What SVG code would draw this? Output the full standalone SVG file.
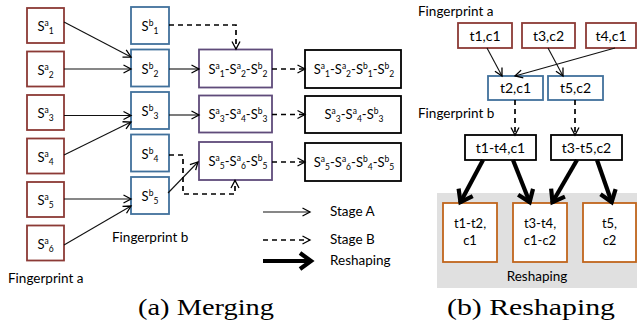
<svg xmlns="http://www.w3.org/2000/svg" width="637" height="327" viewBox="0 0 637 327">
  <style>
    .lbl { font-family: Lato, "Liberation Sans", sans-serif; font-size: 13.5px; fill: #000; }
    .box { font-family: Lato, "Liberation Sans", sans-serif; font-size: 13px; fill: #000; text-anchor: middle; }
    .sm { font-size: 8.5px; }
    .cap { font-family: "Liberation Serif", "DejaVu Serif", serif; font-size: 23px; fill: #000; }
    .fa rect { fill: #fff; stroke: #8c3a36; stroke-width: 1.8; }
    .fb rect { fill: #fff; stroke: #41719c; stroke-width: 1.8; }
    .mg rect { fill: #fff; stroke: #5f4b7a; stroke-width: 1.8; }
    .rs rect { fill: #fff; stroke: #000; stroke-width: 1.8; }
    .or rect { fill: #fff; stroke: #c0651c; stroke-width: 1.8; }
    .a { fill: none; stroke: #111; stroke-width: 1.1; marker-end: url(#open); }
    .b { fill: none; stroke: #000; stroke-width: 1.7; stroke-dasharray: 5 4; marker-end: url(#open); }
    .r { fill: none; stroke: #000; stroke-width: 4.2; marker-end: url(#thick); }
  </style>
  <defs>
    <marker id="open" markerUnits="userSpaceOnUse" markerWidth="12" markerHeight="12" viewBox="0 0 12 10" refX="9.5" refY="5" orient="auto">
      <path d="M2,1 L9.5,5 L2,9" fill="none" stroke="#000" stroke-width="1.3"/>
    </marker>
    <marker id="thick" markerUnits="userSpaceOnUse" markerWidth="22" markerHeight="22" viewBox="0 0 22 22" refX="17" refY="11" orient="auto">
      <path d="M5,3 L16,11 L5,19" fill="none" stroke="#000" stroke-width="4.2"/>
    </marker>
  </defs>

  <rect x="437" y="193" width="200" height="95" fill="#e0e0e0"/>

  <!-- merging: fingerprint a -->
  <g id="sa1" class="fa"><rect x="27" y="8" width="37" height="35"/><text class="box" x="45.5" y="31">S<tspan class="sm" dy="-5">a</tspan><tspan class="sm" dy="8">1</tspan></text></g>
  <g id="sa2" class="fa"><rect x="27" y="51.5" width="37" height="35"/><text class="box" x="45.5" y="74.5">S<tspan class="sm" dy="-5">a</tspan><tspan class="sm" dy="8">2</tspan></text></g>
  <g id="sa3" class="fa"><rect x="27" y="95" width="37" height="35"/><text class="box" x="45.5" y="118">S<tspan class="sm" dy="-5">a</tspan><tspan class="sm" dy="8">3</tspan></text></g>
  <g id="sa4" class="fa"><rect x="27" y="138.5" width="37" height="35"/><text class="box" x="45.5" y="161.5">S<tspan class="sm" dy="-5">a</tspan><tspan class="sm" dy="8">4</tspan></text></g>
  <g id="sa5" class="fa"><rect x="27" y="182" width="37" height="35"/><text class="box" x="45.5" y="205">S<tspan class="sm" dy="-5">a</tspan><tspan class="sm" dy="8">5</tspan></text></g>
  <g id="sa6" class="fa"><rect x="27" y="225.5" width="37" height="35"/><text class="box" x="45.5" y="248.5">S<tspan class="sm" dy="-5">a</tspan><tspan class="sm" dy="8">6</tspan></text></g>

  <!-- merging: fingerprint b -->
  <g id="sb1" class="fb"><rect x="131" y="7" width="38" height="37"/><text class="box" x="150" y="31">S<tspan class="sm" dy="-5">b</tspan><tspan class="sm" dy="8">1</tspan></text></g>
  <g id="sb2" class="fb"><rect x="131" y="49.5" width="38" height="37"/><text class="box" x="150" y="73.5">S<tspan class="sm" dy="-5">b</tspan><tspan class="sm" dy="8">2</tspan></text></g>
  <g id="sb3" class="fb"><rect x="131" y="92" width="38" height="37"/><text class="box" x="150" y="116">S<tspan class="sm" dy="-5">b</tspan><tspan class="sm" dy="8">3</tspan></text></g>
  <g id="sb4" class="fb"><rect x="131" y="134.5" width="38" height="37"/><text class="box" x="150" y="158.5">S<tspan class="sm" dy="-5">b</tspan><tspan class="sm" dy="8">4</tspan></text></g>
  <g id="sb5" class="fb"><rect x="131" y="177" width="38" height="37"/><text class="box" x="150" y="201">S<tspan class="sm" dy="-5">b</tspan><tspan class="sm" dy="8">5</tspan></text></g>

  <!-- merging: stage A results -->
  <g id="m1" class="mg"><rect x="199" y="49.5" width="73" height="38"/><text class="box" x="238" y="74">S<tspan class="sm" dy="-5">a</tspan><tspan class="sm" dy="8">1</tspan><tspan dy="-3">-S</tspan><tspan class="sm" dy="-5">a</tspan><tspan class="sm" dy="8">2</tspan><tspan dy="-3">-S</tspan><tspan class="sm" dy="-5">b</tspan><tspan class="sm" dy="8">2</tspan></text></g>
  <g id="m2" class="mg"><rect x="199" y="95.5" width="73" height="37"/><text class="box" x="238" y="119">S<tspan class="sm" dy="-5">a</tspan><tspan class="sm" dy="8">3</tspan><tspan dy="-3">-S</tspan><tspan class="sm" dy="-5">a</tspan><tspan class="sm" dy="8">4</tspan><tspan dy="-3">-S</tspan><tspan class="sm" dy="-5">b</tspan><tspan class="sm" dy="8">3</tspan></text></g>
  <g id="m3" class="mg"><rect x="199" y="142" width="73" height="38"/><text class="box" x="238" y="166">S<tspan class="sm" dy="-5">a</tspan><tspan class="sm" dy="8">5</tspan><tspan dy="-3">-S</tspan><tspan class="sm" dy="-5">a</tspan><tspan class="sm" dy="8">6</tspan><tspan dy="-3">-S</tspan><tspan class="sm" dy="-5">b</tspan><tspan class="sm" dy="8">5</tspan></text></g>

  <!-- merging: stage B results -->
  <g id="r1" class="rs"><rect x="305" y="50" width="96" height="38"/><text class="box" x="354" y="74">S<tspan class="sm" dy="-5">a</tspan><tspan class="sm" dy="8">1</tspan><tspan dy="-3">-S</tspan><tspan class="sm" dy="-5">a</tspan><tspan class="sm" dy="8">2</tspan><tspan dy="-3">-S</tspan><tspan class="sm" dy="-5">b</tspan><tspan class="sm" dy="8">1</tspan><tspan dy="-3">-S</tspan><tspan class="sm" dy="-5">b</tspan><tspan class="sm" dy="8">2</tspan></text></g>
  <g id="r2" class="rs"><rect x="305" y="96" width="96" height="37"/><text class="box" x="354" y="119">S<tspan class="sm" dy="-5">a</tspan><tspan class="sm" dy="8">3</tspan><tspan dy="-3">-S</tspan><tspan class="sm" dy="-5">a</tspan><tspan class="sm" dy="8">4</tspan><tspan dy="-3">-S</tspan><tspan class="sm" dy="-5">b</tspan><tspan class="sm" dy="8">3</tspan></text></g>
  <g id="r3" class="rs"><rect x="305" y="143" width="96" height="38"/><text class="box" x="354" y="167">S<tspan class="sm" dy="-5">a</tspan><tspan class="sm" dy="8">5</tspan><tspan dy="-3">-S</tspan><tspan class="sm" dy="-5">a</tspan><tspan class="sm" dy="8">6</tspan><tspan dy="-3">-S</tspan><tspan class="sm" dy="-5">b</tspan><tspan class="sm" dy="8">4</tspan><tspan dy="-3">-S</tspan><tspan class="sm" dy="-5">b</tspan><tspan class="sm" dy="8">5</tspan></text></g>

  <!-- reshaping: fingerprint a -->
  <g id="t1c1" class="fa"><rect x="458" y="23" width="54" height="25"/><text class="box" x="485" y="40.5" style="font-size:14px">t1,c1</text></g>
  <g id="t3c2" class="fa"><rect x="522" y="23" width="53" height="25"/><text class="box" x="548.5" y="40.5" style="font-size:14px">t3,c2</text></g>
  <g id="t4c1" class="fa"><rect x="586" y="23" width="50" height="25"/><text class="box" x="611" y="40.5" style="font-size:14px">t4,c1</text></g>

  <!-- reshaping: fingerprint b -->
  <g id="t2c1" class="fb"><rect x="488" y="76" width="55" height="24"/><text class="box" x="515.5" y="93" style="font-size:14px">t2,c1</text></g>
  <g id="t5c2" class="fb"><rect x="548" y="76" width="55" height="24"/><text class="box" x="575.5" y="93" style="font-size:14px">t5,c2</text></g>

  <!-- reshaping: merged -->
  <g id="t1t4" class="rs"><rect x="465" y="135" width="71" height="25"/><text class="box" x="500.5" y="152.5" style="font-size:14px">t1-t4,c1</text></g>
  <g id="t3t5" class="rs"><rect x="551" y="135" width="71" height="25"/><text class="box" x="586.5" y="152.5" style="font-size:14px">t3-t5,c2</text></g>

  <!-- reshaping: output -->
  <g id="o1" class="or"><rect x="443" y="203" width="54" height="59"/><text class="box" x="470" y="228">t1-t2,</text><text class="box" x="470" y="245">c1</text></g>
  <g id="o2" class="or"><rect x="513" y="203" width="54" height="59"/><text class="box" x="540" y="228">t3-t4,</text><text class="box" x="540" y="245">c1-c2</text></g>
  <g id="o3" class="or"><rect x="583" y="203" width="53" height="59"/><text class="box" x="609.5" y="228">t5,</text><text class="box" x="609.5" y="245">c2</text></g>

  <g id="connectors">
    <line class="a" x1="64" y1="22" x2="131" y2="57"/>
    <line class="a" x1="64" y1="69" x2="131" y2="69"/>
    <line class="a" x1="64" y1="115.5" x2="131" y2="115.5"/>
    <line class="a" x1="64" y1="155" x2="131" y2="122"/>
    <line class="a" x1="64" y1="199" x2="131" y2="199"/>
    <line class="a" x1="64" y1="245" x2="131" y2="206"/>
    <line class="a" x1="169" y1="69" x2="199" y2="69"/>
    <line class="a" x1="169" y1="115" x2="199" y2="115"/>
    <line class="a" x1="168" y1="193" x2="198" y2="162"/>
    <path class="b" d="M169,25 H236 V49"/>
    <path class="b" d="M169,155 H183 V194 H235 V180.5"/>
    <line class="b" x1="272" y1="69" x2="305" y2="69"/>
    <line class="b" x1="272" y1="114.5" x2="305" y2="114.5"/>
    <line class="b" x1="272" y1="162" x2="305" y2="162"/>

    <line class="a" x1="487" y1="48" x2="502" y2="76"/>
    <line class="a" x1="615" y1="48" x2="515" y2="76"/>
    <line class="a" x1="548" y1="48" x2="563" y2="76"/>
    <line class="b" x1="515" y1="100" x2="515" y2="135"/>
    <line class="b" x1="575" y1="100" x2="575" y2="135"/>
    <line class="r" x1="483" y1="160" x2="460" y2="203"/>
    <line class="r" x1="513" y1="160" x2="530" y2="203"/>
    <line class="r" x1="577" y1="160" x2="552" y2="203"/>
    <line class="r" x1="597" y1="160" x2="612" y2="203"/>

    <line class="a" x1="263" y1="212" x2="310" y2="212"/>
    <line class="b" x1="263" y1="240" x2="310" y2="240"/>
    <line class="r" x1="263" y1="261" x2="312" y2="261"/>
  </g>

  <text class="lbl" x="330" y="216">Stage A</text>
  <text class="lbl" x="330" y="244">Stage B</text>
  <text class="lbl" x="330" y="265">Reshaping</text>
  <text class="lbl" x="112" y="242">Fingerprint b</text>
  <text class="lbl" x="8" y="283">Fingerprint a</text>
  <text class="lbl" x="418" y="16">Fingerprint a</text>
  <text class="lbl" x="418" y="118">Fingerprint b</text>
  <text class="lbl" x="537" y="281" text-anchor="middle">Reshaping</text>

  <text class="cap" x="138" y="315" textLength="136" lengthAdjust="spacingAndGlyphs">(a) Merging</text>
  <text class="cap" x="447" y="315" textLength="168" lengthAdjust="spacingAndGlyphs">(b) Reshaping</text>
</svg>
